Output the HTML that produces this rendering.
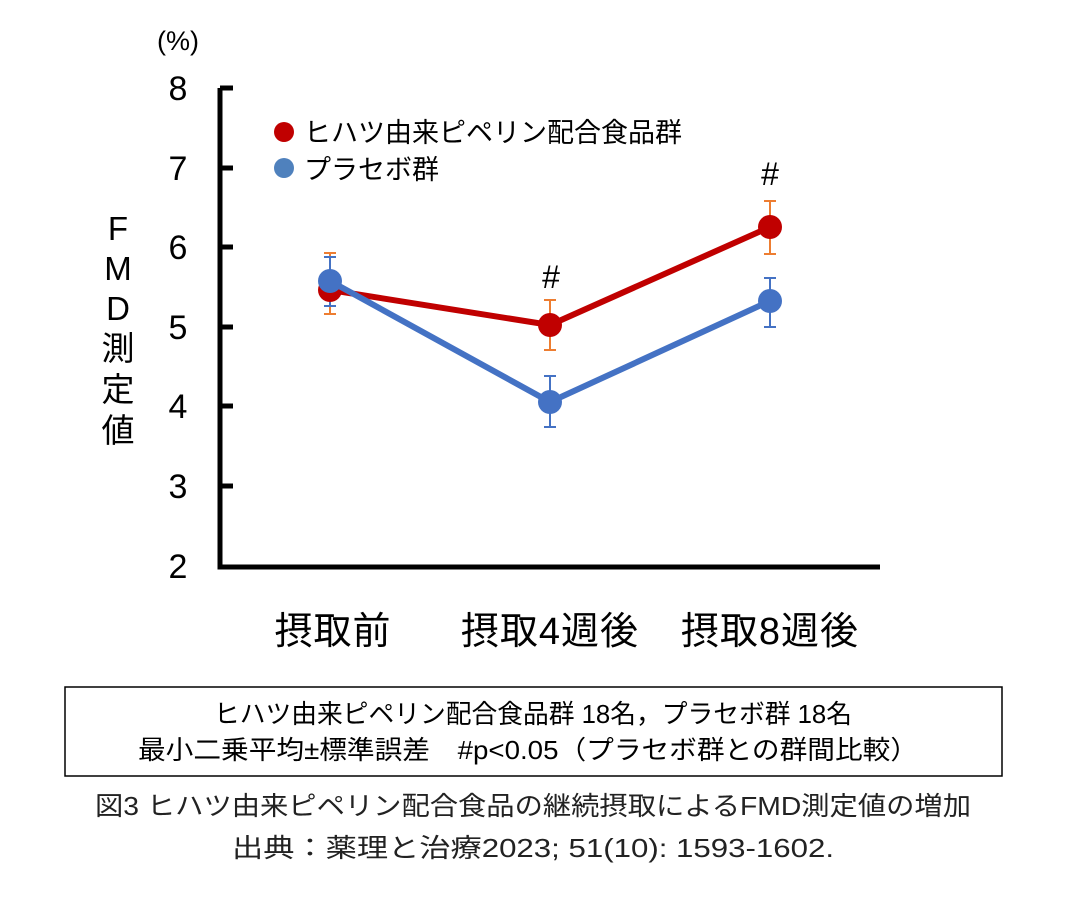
<!DOCTYPE html>
<html><head><meta charset="utf-8"><style>
body{margin:0;background:#fff;width:1068px;height:892px;overflow:hidden}
text{font-family:"Liberation Sans","Noto Sans CJK JP",sans-serif}
</style></head><body>
<svg width="1068" height="892" viewBox="0 0 1068 892" xmlns="http://www.w3.org/2000/svg">
<text x="178" y="50" font-size="27" text-anchor="middle">(%)</text>
<g font-size="34" text-anchor="middle">
<text x="178" y="100">8</text><text x="178" y="180">7</text><text x="178" y="259">6</text>
<text x="178" y="339">5</text><text x="178" y="418">4</text><text x="178" y="498">3</text><text x="178" y="578">2</text>
</g>
<g font-size="33" text-anchor="middle">
<text x="118" y="240">F</text><text x="118" y="280">M</text><text x="118" y="320">D</text>
<text x="118" y="360">測</text><text x="118" y="401">定</text><text x="118" y="442">値</text>
</g>
<path d="M220 88 V567 H880" stroke="#000" stroke-width="5" fill="none"/>
<g stroke="#000" stroke-width="5">
<line x1="220" y1="88" x2="233" y2="88"/><line x1="220" y1="168" x2="233" y2="168"/>
<line x1="220" y1="247" x2="233" y2="247"/><line x1="220" y1="327" x2="233" y2="327"/>
<line x1="220" y1="406" x2="233" y2="406"/><line x1="220" y1="486" x2="233" y2="486"/>
</g>
<g stroke="#ED7D31" stroke-width="2">
<path d="M330 253V314M324 253H336M324 314H336"/>
<path d="M550 300V350M544 300H556M544 350H556"/>
<path d="M770 201V254M764 201H776M764 254H776"/>
</g>
<g stroke="#4472C4" stroke-width="2">
<path d="M330 257V306M324 257H336M324 306H336"/>
<path d="M550 376V427M544 376H556M544 427H556"/>
<path d="M770 278V327M764 278H776M764 327H776"/>
</g>
<polyline points="330,290 550,325 770,227" stroke="#C00000" stroke-width="6" fill="none"/>
<g fill="#C00000"><circle cx="330" cy="290" r="12"/><circle cx="550" cy="325" r="12"/><circle cx="770" cy="227" r="12"/></g>
<polyline points="330,281 550,402 770,301" stroke="#4472C4" stroke-width="6" fill="none"/>
<g fill="#4472C4"><circle cx="330" cy="281" r="12"/><circle cx="550" cy="402" r="12"/><circle cx="770" cy="301" r="12"/></g>
<text x="551" y="288" font-size="32" text-anchor="middle">#</text>
<text x="770" y="185" font-size="32" text-anchor="middle">#</text>
<circle cx="284" cy="132" r="10" fill="#C00000"/>
<circle cx="284" cy="168" r="10" fill="#4F81BD"/>
<text x="304" y="142" font-size="27">ヒハツ由来ピペリン配合食品群</text>
<text x="304" y="179" font-size="27">プラセボ群</text>
<g font-size="38" text-anchor="middle" letter-spacing="1">
<text x="333" y="644">摂取前</text><text x="550" y="644">摂取4週後</text><text x="770" y="644">摂取8週後</text>
</g>
<rect x="65" y="687" width="937" height="89" fill="none" stroke="#000" stroke-width="1.5"/>
<text x="533" y="723" font-size="26" text-anchor="middle" textLength="638" lengthAdjust="spacingAndGlyphs">ヒハツ由来ピペリン配合食品群 18名，プラセボ群 18名</text>
<text x="528" y="759" font-size="26" text-anchor="middle" textLength="780" lengthAdjust="spacingAndGlyphs">最小二乗平均±標準誤差　#p&lt;0.05（プラセボ群との群間比較）</text>
<text x="533" y="815" font-size="26" text-anchor="middle" fill="#222" textLength="876" lengthAdjust="spacingAndGlyphs">図3  ヒハツ由来ピペリン配合食品の継続摂取によるFMD測定値の増加</text>
<text x="533" y="857" font-size="26" text-anchor="middle" fill="#222" textLength="602" lengthAdjust="spacingAndGlyphs">出典：薬理と治療2023;  51(10):  1593-1602.</text>
</svg>
</body></html>
